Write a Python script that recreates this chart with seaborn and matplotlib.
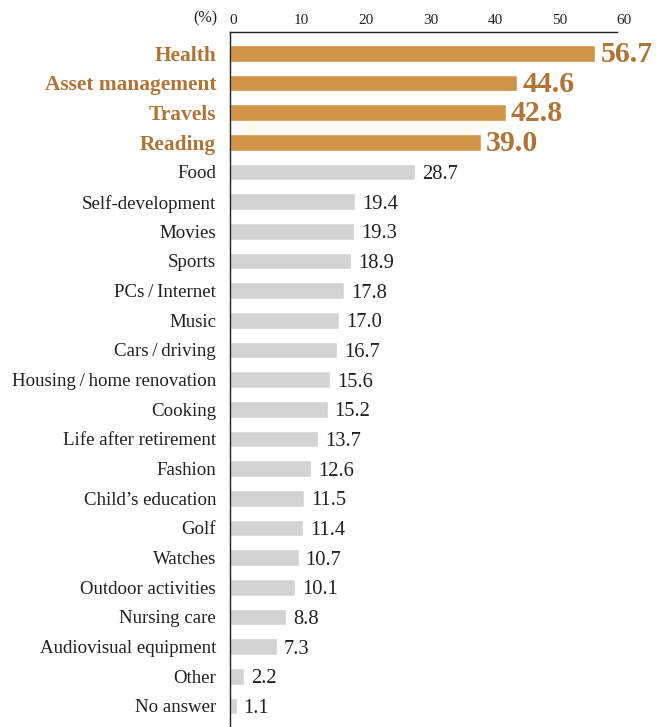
import matplotlib
matplotlib.use("Agg")
import matplotlib.pyplot as plt
import seaborn as sns
import pandas as pd

THIN = "\u2009"
categories = [
    "Health", "Asset management", "Travels", "Reading", "Food",
    "Self-development", "Movies", "Sports", f"PCs{THIN}/{THIN}Internet", "Music",
    f"Cars{THIN}/{THIN}driving", f"Housing{THIN}/{THIN}home renovation", "Cooking",
    "Life after retirement", "Fashion", "Child\u2019s education", "Golf",
    "Watches", "Outdoor activities", "Nursing care",
    "Audiovisual equipment", "Other", "No answer",
]
values = [56.7, 44.6, 42.8, 39.0, 28.7, 19.4, 19.3, 18.9, 17.8, 17.0,
          16.7, 15.6, 15.2, 13.7, 12.6, 11.5, 11.4, 10.7, 10.1, 8.8,
          7.3, 2.2, 1.1]
n_highlight = 4
ticks = [0, 10, 20, 30, 40, 50, 60]

BAR_HI = "#CF9447"
TEXT_HI = "#B07434"
BAR_LO = "#D2D3D5"
TEXT = "#231F20"

sns.set_theme(style="white")
plt.rcParams["font.family"] = ["Liberation Serif", "DejaVu Serif"]

df = pd.DataFrame({"category": categories, "value": values})
df["group"] = ["hi" if i < n_highlight else "lo" for i in range(len(df))]

W, H = 665, 727
fig = plt.figure(figsize=(W / 100, H / 100), dpi=100)
ax = fig.add_axes([229.5 / W, 0.0, (616.5 - 229.5) / W, 1 - 32.3 / H])

sns.barplot(data=df, x="value", y="category", hue="group",
            palette={"hi": BAR_HI, "lo": BAR_LO}, width=0.56,
            dodge=False, legend=False, saturation=1, ax=ax)

ax.set_xlim(0, 60)
ax.set_ylim(len(categories) - 1 + 0.708, -0.708)
ax.xaxis.tick_top()
ax.set_xticks(ticks)
ax.set_xticklabels([str(t) for t in ticks], fontsize=11, color=TEXT, ha="left")
ax.tick_params(axis="x", length=0, pad=3.5)
ax.tick_params(axis="y", length=0, pad=9.7)
ax.set_xlabel("")
ax.set_ylabel("")

fig.text(217 / W, 1 - 18.6 / H, "(%)", ha="right", va="center",
         fontsize=11.6, color=TEXT)

for spine in ["right", "bottom"]:
    ax.spines[spine].set_visible(False)
for spine in ["top", "left"]:
    ax.spines[spine].set_color(TEXT)
    ax.spines[spine].set_linewidth(1.0)

for i, lbl in enumerate(ax.get_yticklabels()):
    if i < n_highlight:
        lbl.set_fontsize(15.4)
        lbl.set_fontweight("bold")
        lbl.set_color(TEXT_HI)
    else:
        lbl.set_fontsize(13.6)
        lbl.set_color(TEXT)

for i, v in enumerate(values):
    if i < n_highlight:
        ax.text(v + 0.8, i + 0.04, f"{v:.1f}", va="center", ha="left",
                fontsize=21.5, fontweight="bold", color=TEXT_HI)
    else:
        ax.text(v + 1.1, i + 0.08, f"{v:.1f}", va="center", ha="left",
                fontsize=14.8, color=TEXT)

fig.savefig("out.png", dpi=100)
